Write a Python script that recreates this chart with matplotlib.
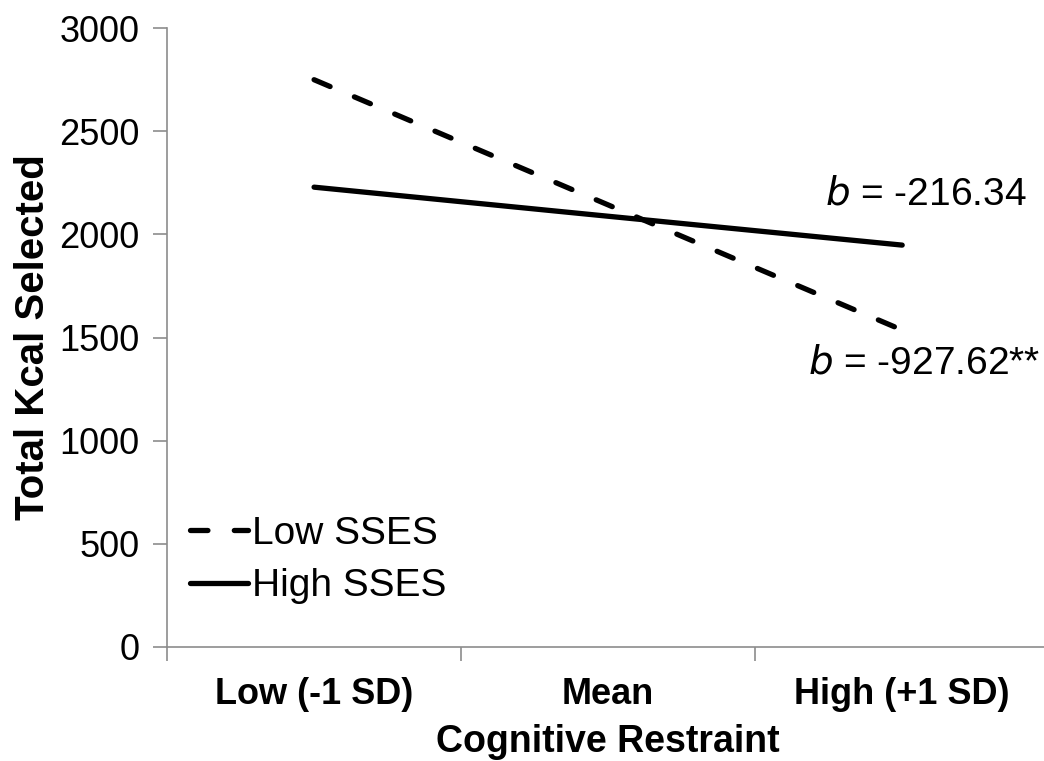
import matplotlib
matplotlib.use("Agg")
import matplotlib.pyplot as plt

categories = ["Low (-1 SD)", "Mean", "High (+1 SD)"]
low_sses = [2750, 2143, 1536]
high_sses = [2229, 2088, 1948]
y_ticks = [0, 500, 1000, 1500, 2000, 2500, 3000]

plt.rcParams['font.family'] = ['Liberation Sans', 'DejaVu Sans']

fig = plt.figure(figsize=(10.44, 7.61), dpi=100)
ax = fig.add_axes([0.160, 0.150, 0.845, 0.813])

x = list(range(len(categories)))
ax.plot(x, low_sses, color='black', lw=3.8, linestyle=(0, (3.3, 5.0)), label='Low SSES',
        solid_capstyle='round', dash_capstyle='round')
ax.plot(x, high_sses, color='black', lw=3.8, label='High SSES', solid_capstyle='round')

ax.set_xlim(-0.5, 2.5)
ax.set_ylim(0, 3000)
ax.set_yticks(y_ticks)
ax.set_yticklabels([str(v) for v in y_ticks], fontsize=26)
ax.set_xticks([-0.5, 0.5, 1.5, 2.5])
ax.set_xticklabels([])
ax.set_xticks(x, minor=True)
ax.set_xticklabels(categories, minor=True, fontsize=26, fontweight='bold')
ax.tick_params(axis='x', which='minor', length=0, pad=22)
ax.tick_params(axis='x', which='major', length=10, color='#8c8c8c', width=1.2, direction='out')
ax.tick_params(axis='y', length=10, color='#8c8c8c', width=1.2, pad=10)

for s in ['top', 'right']:
    ax.spines[s].set_visible(False)
for s in ['left', 'bottom']:
    ax.spines[s].set_color('#8c8c8c')
    ax.spines[s].set_linewidth(1.2)

ax.set_ylabel('Total Kcal Selected', fontsize=29, fontweight='bold', labelpad=5)
ax.set_xlabel('Cognitive Restraint', fontsize=27, fontweight='bold', labelpad=8)

ax.text(1.736, 2195, r'$\it{b}$ = -216.34', fontsize=28, ha='left', va='center')
ax.text(1.678, 1375, r'$\it{b}$ = -927.62**', fontsize=28, ha='left', va='center')

leg = ax.legend(loc='center left', bbox_to_anchor=(0.026, 0.14), frameon=False, fontsize=28,
                handlelength=1.5, handletextpad=0.1, labelspacing=0.42, borderaxespad=0,
                borderpad=0)

fig.savefig('out.png', dpi=100)
